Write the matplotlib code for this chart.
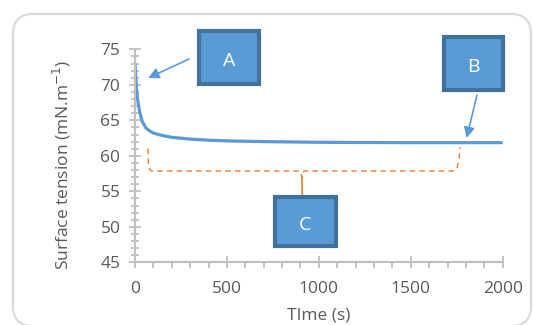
import matplotlib
matplotlib.use("Agg")
import matplotlib.pyplot as plt
from matplotlib.patches import FancyBboxPatch, Rectangle

plt.rcParams['font.family'] = ['Open Sans', 'DejaVu Sans']

# Data
time_s = [0, 3, 8, 15, 25, 40, 60, 80, 100, 150, 200, 300, 400, 500, 700, 1000, 1500, 2000]
tension = [73.0, 71.5, 69.5, 67.8, 66.2, 64.8, 63.9, 63.5, 63.2, 62.85, 62.6, 62.35, 62.2, 62.1, 62.0, 61.9, 61.85, 61.85]

x_ticks = [0, 500, 1000, 1500, 2000]
y_ticks = [45, 50, 55, 60, 65, 70, 75]
labels_box = ["A", "B", "C"]

W, H = 534, 325
fig = plt.figure(figsize=(W / 100, H / 100), dpi=100)

# background frame (figure pixel coords)
bg = fig.add_axes([0, 0, 1, 1])
bg.set_xlim(0, W)
bg.set_ylim(H, 0)
bg.axis('off')
bg.add_patch(FancyBboxPatch((13, 14), 518, 312, boxstyle="round,pad=0,rounding_size=20",
                            fc='white', ec='#D9D9D9', lw=1.5))

left, right, top, bottom = 135 / W, 502.7 / W, 49.3, 262.3
ax = fig.add_axes([left, 1 - bottom / H, right - left, (bottom - top) / H])
ax.set_facecolor('none')

ax.plot(time_s, tension, color='#5B9BD5', lw=2.3, solid_capstyle='butt')

ax.set_xlim(0, 2000)
ax.set_ylim(45, 75)
ax.set_xticks(x_ticks)
ax.set_yticks(y_ticks)
ax.set_xticks(range(0, 2001, 100), minor=True)
ax.set_yticks(range(45, 76, 1), minor=True)
for s in ['top', 'right']:
    ax.spines[s].set_visible(False)
for s in ['left', 'bottom']:
    ax.spines[s].set_color('#BFBFBF')
    ax.spines[s].set_linewidth(1.5)
ax.tick_params(axis='both', which='major', direction='inout', length=9, width=1.3,
               color='#BFBFBF', labelcolor='#595959', labelsize=12.5)
ax.tick_params(axis='y', which='minor', direction='inout', length=6, width=1.3, color='#BFBFBF')
ax.tick_params(axis='x', which='minor', direction='out', length=4, width=1.3, color='#BFBFBF')
ax.tick_params(axis='y', which='major', pad=6)
ax.tick_params(axis='x', which='major', pad=9)

ax.set_xlabel('TIme (s)', color='#595959', fontsize=12.5, labelpad=0)
ax.set_ylabel('Surface tension (mN.m$^{-1}$)', color='#595959', fontsize=12.5)
ax.yaxis.set_label_coords((73 - 135) / (502.7 - 135), (262.3 - 165) / (262.3 - 49.3))
ax.xaxis.set_label_coords(0.5, -(307 - 262.3) / (262.3 - 49.3))

# Boxes (in data coordinates, outside axes allowed)
boxes = {
    "A": (348, 70.11, 326, 7.47),
    "B": (1681, 69.27, 320, 7.45),
    "C": (761, 47.29, 332, 6.91),
}
for lab in labels_box:
    x0, y0, w, h = boxes[lab]
    r = Rectangle((x0, y0), w, h, fc='#5B9BD5', ec='#41719C', lw=3, clip_on=False, zorder=5)
    ax.add_patch(r)
    ax.text(x0 + w / 2, y0 + h / 2 - 0.5, lab, color='white', fontsize=14,
            ha='center', va='center', zorder=6, clip_on=False)

# Arrows
ax.annotate('', xy=(71, 70.96), xytext=(294, 73.63),
            arrowprops=dict(arrowstyle='-|>', color='#5B9BD5', lw=1.2, mutation_scale=16,
                            shrinkA=0, shrinkB=0), annotation_clip=False)
ax.annotate('', xy=(1804, 62.5), xytext=(1860, 68.56),
            arrowprops=dict(arrowstyle='-|>', color='#5B9BD5', lw=1.2, mutation_scale=16,
                            shrinkA=0, shrinkB=0), annotation_clip=False)

# Brace C
brace_x = [71, 73, 80, 90, 895, 903, 908, 913, 921, 1735, 1750, 1762, 1768]
brace_y = [61.0, 59.0, 58.0, 57.86, 57.86, 57.6, 56.9, 57.6, 57.86, 57.86, 58.1, 59.5, 61.2]
ax.plot(brace_x, brace_y, color='#ED7D31', lw=1.0, ls=(0, (4, 3)), clip_on=False)
ax.plot([908, 910], [56.9, 53.8], color='#ED7D31', lw=1.2, clip_on=False)

fig.savefig('out.png', dpi=100)
